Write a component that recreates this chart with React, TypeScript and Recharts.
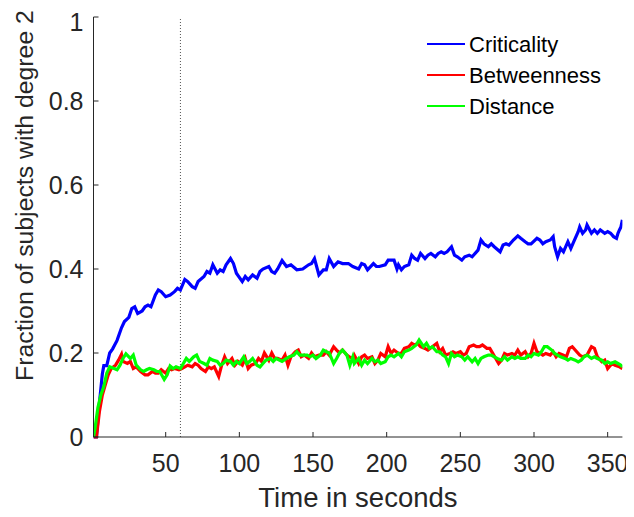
import React from "react";
import { LineChart, Line, XAxis, YAxis, ReferenceLine, Legend, Label } from "recharts";

// time (s) and fraction of subjects with degree 2
const critT = [1, 3, 5, 7, 8, 10, 12, 14, 17, 20, 22, 25, 27, 29, 31, 34, 36, 38, 40, 43, 45, 47, 50, 53, 56, 58, 60, 63, 65, 68, 70, 72, 76, 78, 80, 82, 85, 87, 89, 91, 94, 96, 98, 102, 104, 106, 109, 112, 114, 116, 120, 122, 124, 126, 129, 132, 135, 139, 143, 147, 149, 151, 154, 157, 159, 161, 164, 167, 170, 174, 177, 181, 183, 185, 187, 191, 193, 195, 199, 201, 205, 207, 208, 210, 212, 215, 217, 219, 221, 223, 226, 228, 230, 233, 235, 237, 239, 241, 244, 246, 248, 251, 253, 256, 258, 262, 264, 266, 269, 271, 273, 277, 279, 281, 283, 286, 289, 291, 294, 296, 298, 302, 304, 306, 308, 311, 313, 314, 316, 318, 320, 323, 325, 327, 330, 331, 333, 335, 336, 339, 341, 343, 345, 348, 350, 352, 354, 356, 357, 358, 359, 360];
const critV = [0, 0, 0.08, 0.15, 0.17, 0.17, 0.2, 0.21, 0.23, 0.26, 0.275, 0.285, 0.306, 0.31, 0.294, 0.3, 0.31, 0.314, 0.31, 0.338, 0.35, 0.346, 0.334, 0.338, 0.346, 0.354, 0.35, 0.375, 0.37, 0.358, 0.354, 0.37, 0.382, 0.394, 0.39, 0.41, 0.39, 0.398, 0.394, 0.41, 0.425, 0.413, 0.39, 0.37, 0.382, 0.374, 0.386, 0.378, 0.394, 0.4, 0.406, 0.394, 0.39, 0.4, 0.42, 0.406, 0.41, 0.398, 0.4, 0.41, 0.413, 0.425, 0.386, 0.398, 0.398, 0.425, 0.406, 0.417, 0.413, 0.413, 0.406, 0.4, 0.413, 0.41, 0.398, 0.413, 0.406, 0.406, 0.41, 0.421, 0.421, 0.4, 0.41, 0.398, 0.406, 0.41, 0.433, 0.425, 0.421, 0.437, 0.425, 0.433, 0.437, 0.429, 0.437, 0.441, 0.437, 0.441, 0.453, 0.433, 0.429, 0.421, 0.429, 0.433, 0.429, 0.445, 0.469, 0.46, 0.453, 0.46, 0.453, 0.441, 0.457, 0.46, 0.457, 0.469, 0.479, 0.473, 0.465, 0.46, 0.46, 0.473, 0.469, 0.46, 0.465, 0.469, 0.477, 0.453, 0.429, 0.449, 0.441, 0.465, 0.449, 0.465, 0.489, 0.5, 0.485, 0.493, 0.505, 0.485, 0.493, 0.485, 0.493, 0.485, 0.489, 0.485, 0.477, 0.473, 0.485, 0.493, 0.5, 0.517];

const betwT = [1, 3, 5, 7, 9, 11, 13, 16, 18, 20, 21, 24, 26, 28, 30, 33, 36, 38, 41, 43, 45, 47, 50, 52, 54, 56, 59, 61, 63, 65, 68, 70, 72, 74, 77, 79, 81, 83, 86, 88, 90, 92, 95, 97, 99, 102, 104, 106, 108, 111, 113, 115, 117, 120, 122, 124, 126, 129, 131, 133, 135, 138, 140, 142, 144, 147, 149, 151, 154, 157, 159, 161, 164, 166, 168, 170, 173, 175, 177, 178, 181, 183, 185, 187, 190, 192, 194, 196, 199, 201, 203, 205, 208, 210, 212, 215, 217, 219, 221, 223, 226, 228, 231, 234, 236, 238, 240, 243, 245, 247, 250, 252, 254, 256, 259, 261, 263, 265, 268, 270, 272, 274, 276, 278, 280, 282, 285, 287, 289, 291, 294, 296, 298, 300, 302, 304, 306, 308, 311, 313, 315, 317, 320, 322, 324, 326, 329, 331, 333, 336, 339, 341, 343, 346, 348, 350, 353, 355, 358, 360];
const betwV = [0, 0, 0.06, 0.1, 0.124, 0.148, 0.163, 0.171, 0.183, 0.197, 0.18, 0.175, 0.18, 0.163, 0.167, 0.156, 0.148, 0.148, 0.156, 0.152, 0.152, 0.16, 0.152, 0.163, 0.16, 0.163, 0.16, 0.163, 0.167, 0.171, 0.167, 0.175, 0.171, 0.163, 0.156, 0.167, 0.163, 0.167, 0.144, 0.171, 0.191, 0.175, 0.187, 0.171, 0.18, 0.171, 0.187, 0.163, 0.171, 0.175, 0.187, 0.18, 0.2, 0.183, 0.2, 0.187, 0.187, 0.183, 0.195, 0.171, 0.191, 0.203, 0.207, 0.191, 0.195, 0.187, 0.2, 0.191, 0.195, 0.195, 0.203, 0.195, 0.215, 0.207, 0.2, 0.207, 0.195, 0.19, 0.187, 0.195, 0.175, 0.191, 0.195, 0.187, 0.191, 0.175, 0.183, 0.199, 0.191, 0.215, 0.199, 0.207, 0.199, 0.199, 0.211, 0.215, 0.223, 0.219, 0.223, 0.215, 0.211, 0.207, 0.215, 0.223, 0.203, 0.211, 0.195, 0.199, 0.203, 0.199, 0.203, 0.195, 0.199, 0.215, 0.219, 0.215, 0.215, 0.219, 0.211, 0.211, 0.199, 0.187, 0.175, 0.183, 0.199, 0.195, 0.199, 0.195, 0.207, 0.195, 0.203, 0.191, 0.199, 0.223, 0.203, 0.199, 0.195, 0.199, 0.195, 0.203, 0.191, 0.199, 0.195, 0.191, 0.211, 0.215, 0.203, 0.195, 0.191, 0.195, 0.215, 0.211, 0.191, 0.179, 0.183, 0.163, 0.175, 0.171, 0.167, 0.163];

const distT = [1, 2, 4, 6, 8, 10, 12, 15, 17, 19, 21, 23, 26, 28, 30, 33, 35, 37, 39, 42, 44, 46, 49, 51, 53, 55, 57, 60, 62, 64, 66, 69, 71, 73, 76, 78, 80, 82, 85, 87, 89, 91, 94, 96, 98, 100, 103, 105, 107, 109, 112, 114, 116, 118, 121, 123, 125, 129, 132, 134, 137, 139, 141, 143, 146, 148, 150, 152, 155, 157, 159, 161, 164, 166, 168, 170, 173, 175, 177, 178, 181, 183, 185, 187, 190, 192, 194, 196, 199, 201, 203, 205, 208, 210, 212, 215, 217, 220, 222, 225, 227, 229, 231, 234, 236, 238, 240, 242, 244, 246, 248, 251, 253, 255, 258, 260, 262, 264, 266, 269, 271, 273, 275, 278, 280, 282, 285, 287, 289, 291, 294, 296, 298, 300, 303, 305, 307, 309, 312, 314, 316, 318, 321, 323, 325, 328, 330, 332, 334, 336, 339, 341, 343, 346, 348, 350, 352, 355, 357, 359, 360];
const distV = [0, 0.02, 0.07, 0.1, 0.12, 0.152, 0.167, 0.163, 0.16, 0.171, 0.187, 0.198, 0.187, 0.195, 0.171, 0.16, 0.156, 0.16, 0.163, 0.16, 0.156, 0.156, 0.137, 0.148, 0.169, 0.163, 0.167, 0.163, 0.175, 0.187, 0.18, 0.191, 0.195, 0.18, 0.175, 0.171, 0.187, 0.183, 0.18, 0.171, 0.175, 0.183, 0.18, 0.171, 0.18, 0.175, 0.191, 0.175, 0.18, 0.187, 0.171, 0.167, 0.175, 0.183, 0.187, 0.18, 0.187, 0.18, 0.187, 0.191, 0.195, 0.203, 0.195, 0.195, 0.195, 0.191, 0.195, 0.187, 0.195, 0.207, 0.203, 0.2, 0.175, 0.187, 0.2, 0.207, 0.195, 0.171, 0.191, 0.175, 0.187, 0.171, 0.183, 0.175, 0.187, 0.179, 0.183, 0.175, 0.179, 0.191, 0.195, 0.191, 0.199, 0.191, 0.203, 0.207, 0.211, 0.219, 0.231, 0.215, 0.223, 0.211, 0.215, 0.203, 0.203, 0.195, 0.191, 0.175, 0.199, 0.191, 0.195, 0.191, 0.183, 0.191, 0.179, 0.187, 0.175, 0.187, 0.191, 0.195, 0.195, 0.191, 0.187, 0.183, 0.191, 0.183, 0.191, 0.187, 0.191, 0.187, 0.187, 0.195, 0.191, 0.199, 0.195, 0.203, 0.215, 0.215, 0.207, 0.199, 0.195, 0.191, 0.187, 0.183, 0.187, 0.183, 0.179, 0.183, 0.191, 0.195, 0.187, 0.191, 0.187, 0.183, 0.175, 0.179, 0.175, 0.179, 0.175, 0.171, 0.167];

const seriesNames = ["Criticality", "Betweenness", "Distance"];
const xTicks = [50, 100, 150, 200, 250, 300, 350];
const yTicks = [0, 0.2, 0.4, 0.6, 0.8, 1];
const markerT = 60;

const zip = (ts: number[], vs: number[]) => ts.map((t, i) => ({ t, v: vs[i] }));

const FONT = "'Liberation Sans', Arial, sans-serif";
const AXIS = "#262626";

function LegendBox({ payload }: any) {
  const items = [...(payload || [])].sort(
    (a: any, b: any) => seriesNames.indexOf(a.value) - seriesNames.indexOf(b.value)
  );
  return (
    <div style={{ fontFamily: FONT, fontSize: 22, color: "#000" }}>
      {items.map((p: any) => (
        <div key={p.value} style={{ display: "flex", alignItems: "center", height: 31 }}>
          <span style={{ display: "inline-block", width: 38, height: 2, background: p.color, marginRight: 4 }} />
          <span style={{ lineHeight: "31px" }}>{p.value}</span>
        </div>
      ))}
    </div>
  );
}

export default function App() {
  const tickStyle = { fill: AXIS, fontSize: 25, fontFamily: FONT };
  return (
    <div style={{ fontFamily: FONT }}>
      <LineChart width={626} height={509} margin={{ top: 9, right: 11.6, left: 0, bottom: 0 }}>
        <XAxis
          type="number"
          dataKey="t"
          domain={[1, 360]}
          ticks={xTicks}
          allowDataOverflow
          height={80}
          stroke={AXIS}
          tickSize={-5}
          tickMargin={22}
          tick={tickStyle}
        >
          <Label
            content={({ viewBox }: any) => (
              <text
                x={viewBox.x + viewBox.width / 2}
                y={viewBox.y + 70}
                textAnchor="middle"
                fill={AXIS}
                fontSize={27.5}
                fontFamily={FONT}
              >
                Time in seconds
              </text>
            )}
          />
        </XAxis>
        <YAxis
          type="number"
          dataKey="v"
          domain={[0, 1]}
          ticks={yTicks}
          width={85.5}
          stroke={AXIS}
          tickSize={-5}
          tickMargin={15}
          tick={tickStyle}
          tickFormatter={(v: number) => String(v)}
        >
          <Label
            content={() => (
              <text
                x={0}
                y={0}
                transform="translate(25 187.5) rotate(-90)"
                textAnchor="middle"
                fill={AXIS}
                fontSize={24.8}
                fontFamily={FONT}
              >
                Fraction of subjects with degree 2
              </text>
            )}
          />
        </YAxis>
        <ReferenceLine x={markerT} stroke="#555" strokeWidth={1} strokeDasharray="1 2" />
        <Legend
          layout="vertical"
          align="center"
          verticalAlign="middle"
          wrapperStyle={{ position: "absolute", left: 419, top: 20.5, width: "auto", height: "auto" }}
          content={<LegendBox />}
        />
        <Line data={zip(critT, critV)} dataKey="v" name="Criticality" type="linear" stroke="#0000ff" strokeWidth={3.2} dot={false} isAnimationActive={false} />
        <Line data={zip(betwT, betwV)} dataKey="v" name="Betweenness" type="linear" stroke="#ff0000" strokeWidth={3.2} dot={false} isAnimationActive={false} />
        <Line data={zip(distT, distV)} dataKey="v" name="Distance" type="linear" stroke="#00ff00" strokeWidth={3.2} dot={false} isAnimationActive={false} />
      </LineChart>
    </div>
  );
}
